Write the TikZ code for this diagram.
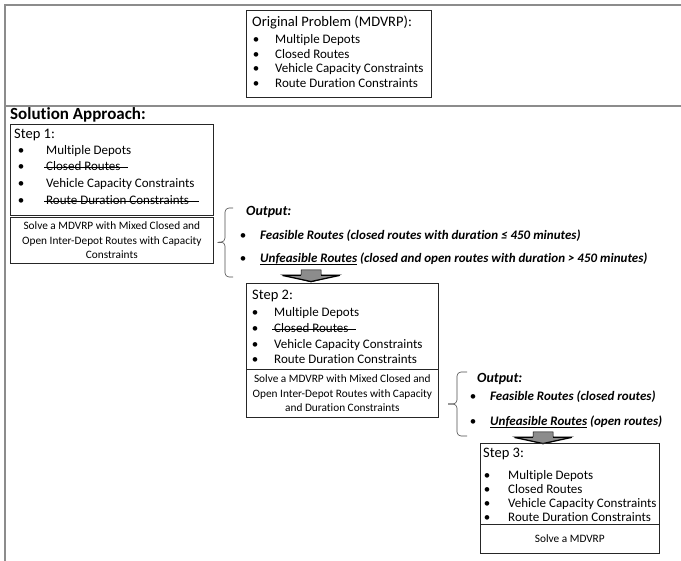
\documentclass[tikz,border=0pt]{standalone}
\usepackage{fontspec}
\usetikzlibrary{calc}
\setmainfont{Carlito}[Ligatures=NoCommon]
\newcommand\fsz[1]{\fontsize{#1}{#1}\selectfont}
\newcommand\ulw[1]{\setbox0\hbox{#1}\rlap{\raisebox{-2.2pt}{\rule{\wd0}{1.1pt}}}\box0\relax}
\newcommand\strk[2]{\setbox0\hbox{#1}\rlap{\hspace{-2pt}\raisebox{3.2pt}{\rule{\dimexpr\wd0+#2\relax}{0.7pt}}}\box0\relax}
\tikzset{
  frameline/.style={draw=black!45, line width=2.4pt},
  boxed/.style={draw=black!85, line width=0.7pt, inner sep=0pt, anchor=north west},
  lowbox/.style={draw=black!85, line width=0.7pt, inner sep=0pt, anchor=north west, align=center, font=\fontsize{11.3}{14.3}\selectfont},
  ttl/.style={anchor=base west, inner sep=0pt, font=\fsz{14.5}},
  item/.style={anchor=base west, inner sep=0pt, font=\fsz{13}},
  bul/.style={anchor=base, inner sep=0pt, font=\fsz{13}},
  outt/.style={anchor=base west, inner sep=0pt, font=\fsz{13}\bfseries\itshape},
  brace/.style={draw=black!70, line width=0.6pt, rounded corners=4pt},
  blockarr/.pic={
    \path[fill=black!45, draw=black, line width=0.5pt] (-10,0) -- (10,0) -- (10,5) -- (28.5,5) -- (0,12) -- (-28.5,5) -- (-10,5) -- cycle;
    \draw[black, line width=1.6pt] (-28.5,5.5) -- (-10,5.5) (10,5.5) -- (28.5,5.5);
    \draw[black, line width=1.2pt] (-28.5,5.5) -- (0,11.5) -- (28.5,5.5);
  }
}
\begin{document}
\begin{tikzpicture}[x=1pt,y=-1pt]
\useasboundingbox (0,0) rectangle (681,561);
% frame
\draw[frameline] (681,5) -- (5,5) -- (5,561);
\draw[frameline] (5,106) -- (681,106);

% original problem
\node[boxed, minimum width=185pt, minimum height=87pt] (orig) at (246,10) {};
\node[ttl] (origt) at (252,27) {Original Problem (MDVRP):};
\foreach \t/\y [count=\i] in {Multiple Depots/43.5, Closed Routes/58.5, Vehicle Capacity Constraints/72.5, Route Duration Constraints/87.5}{
  \node[bul] (ob\i) at (256,\y) {•};
  \node[item] (oi\i) at (275,\y) {\t};
}

\node[anchor=base west, inner sep=0pt, font=\fsz{17}\bfseries] (sol) at (10,119.5) {Solution Approach:};

% step 1
\node[boxed, minimum width=203pt, minimum height=91pt] (s1top) at (10,124) {};
\node[lowbox, minimum width=203pt, minimum height=46pt] (s1bot) at (10,217) {Solve a MDVRP with Mixed Closed and\\Open Inter-Depot Routes with Capacity\\Constraints};
\node[ttl] (s1t) at (14,139) {Step 1:};
\foreach \t/\y [count=\i] in {Multiple Depots/155, {\strk{Closed Routes}{9pt}}/171, Vehicle Capacity Constraints/188, {\strk{Route Duration Constraints}{12pt}}/205}{
  \node[bul] (s1b\i) at (21,\y) {•};
  \node[item] (s1i\i) at (46,\y) {\t};
}

% output 1
\node[outt, font=\fsz{14}\bfseries\itshape] (o1h) at (246,216) {Output:};
\node[bul] (o1b1) at (243,239.5) {•};
\node[outt] (o1f) at (260,239.5) {Feasible Routes (closed routes with duration ≤ 450 minutes)};
\node[bul] (o1b2) at (243,262.5) {•};
\node[outt] (o1u) at (260,262.5) {\ulw{Unfeasible Routes} (closed and open routes with duration > 450 minutes)};
\coordinate (br1) at ($(s1bot.east)+(4,2)$);
\draw[brace] (233,208) -- (225,208) -- (225,242) -- (br1);
\draw[brace] (br1) -- (225,242) -- (225,277) -- (233,277);

% arrow 1
\pic at (311,270) {blockarr};

% step 2
\node[boxed, minimum width=192pt, minimum height=86pt] (s2top) at (246,283) {};
\node[lowbox, minimum width=192pt, minimum height=48pt] (s2bot) at (246,369) {Solve a MDVRP with Mixed Closed and\\Open Inter-Depot Routes with Capacity\\and Duration Constraints};
\node[ttl] (s2t) at (252,300) {Step 2:};
\foreach \t/\y [count=\i] in {Multiple Depots/316.5, {\strk{Closed Routes}{9pt}}/332.5, Vehicle Capacity Constraints/348.5, Route Duration Constraints/363.5}{
  \node[bul] (s2b\i) at (255,\y) {•};
  \node[item] (s2i\i) at (274,\y) {\t};
}

% output 2
\node[outt, font=\fsz{14}\bfseries\itshape] (o2h) at (477,383) {Output:};
\node[bul] (o2b1) at (473,400.5) {•};
\node[outt] (o2f) at (490,400.5) {Feasible Routes (closed routes)};
\node[bul] (o2b2) at (473,425.5) {•};
\node[outt] (o2u) at (490,425.5) {\ulw{Unfeasible Routes} (open routes)};
\coordinate (br2) at (448,404);
\draw[brace] (467,372) -- (457,372) -- (457,404) -- (br2);
\draw[brace] (br2) -- (457,404) -- (457,436) -- (467,436);

% arrow 2
\pic at (543,432) {blockarr};

% step 3
\node[boxed, minimum width=179pt, minimum height=81pt] (s3top) at (480,443) {};
\node[lowbox, minimum width=179pt, minimum height=29pt] (s3bot) at (480,524) {Solve a MDVRP};
\node[ttl] (s3t) at (483,458) {Step 3:};
\foreach \t/\y [count=\i] in {Multiple Depots/479.5, Closed Routes/493.5, Vehicle Capacity Constraints/507.5, Route Duration Constraints/521.5}{
  \node[bul] (s3b\i) at (487,\y) {•};
  \node[item] (s3i\i) at (508,\y) {\t};
}
\end{tikzpicture}
\end{document}
